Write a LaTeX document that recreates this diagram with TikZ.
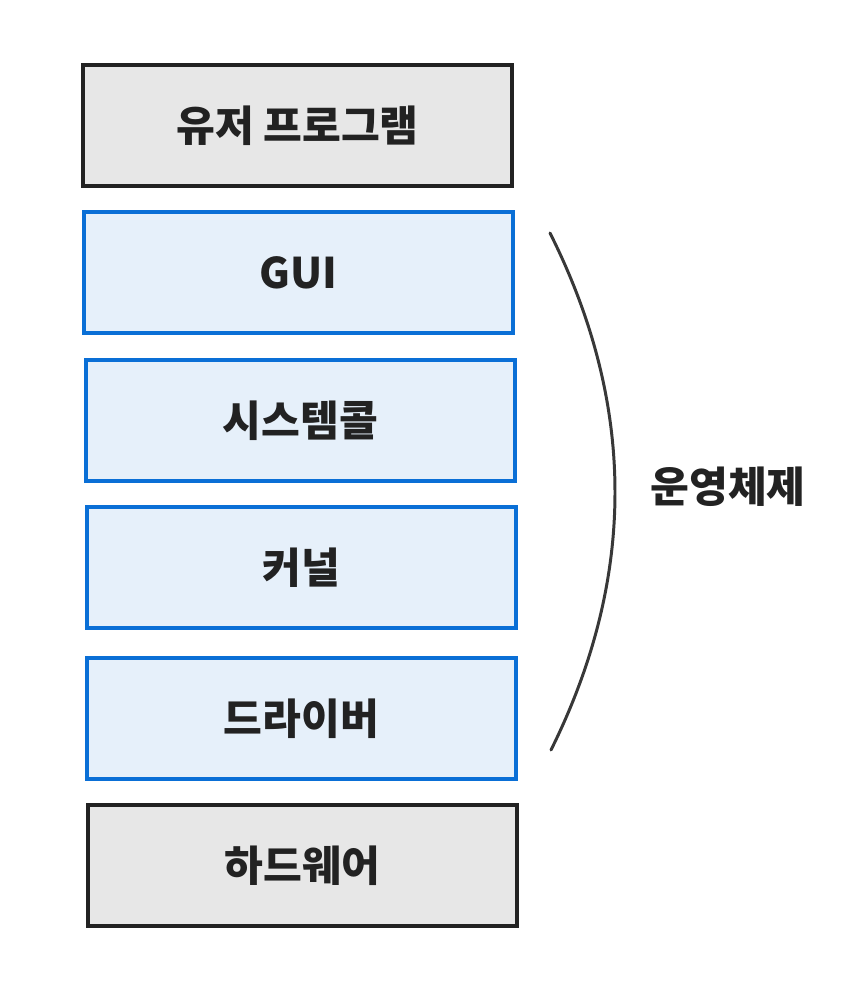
\documentclass[tikz,border=0pt]{standalone}
\usepackage{fontspec}
\newfontfamily\kr{Noto Sans CJK KR}
\usepackage{tikz}
\usetikzlibrary{positioning}
\usepackage{xcolor}
\definecolor{layerblue}{HTML}{0A6FD6}
\definecolor{layerfill}{HTML}{E6F0FA}
\definecolor{hwgray}{HTML}{E7E7E7}
\definecolor{edgedark}{HTML}{222222}

\begin{document}
\begin{tikzpicture}[
  layer/.style={draw=layerblue,line width=2.3pt,fill=layerfill,minimum width=8.58cm,minimum height=2.42cm,text=edgedark,font=\kr\bfseries\fontsize{24}{28}\selectfont},
  outer/.style={layer,draw=edgedark,fill=hwgray}]
\useasboundingbox (0,0) rectangle (17.32,-19.76);
\node[outer] (user) at (5.95,-2.51) {유저 프로그램};
\node[layer] (gui) at (5.97,-5.45) {GUI};
\node[layer] (syscall) at (6.01,-8.41) {시스템콜};
\node[layer] (kernel) at (6.03,-11.35) {커널};
\node[layer] (driver) at (6.03,-14.37) {드라이버};
\node[outer] (hw) at (6.05,-17.31) {하드웨어};
\coordinate (top) at (11.0,-4.66);
\coordinate (bot) at (11.02,-15.0);
\draw[edgedark!90,line width=1.7pt,line cap=round] (top) .. controls (12.73,-8.11) and (12.73,-11.55) .. (bot);
\node[text=edgedark,font=\kr\bfseries\fontsize{24}{28}\selectfont] (os) at (14.56,-9.74) {운영체제};
\end{tikzpicture}
\end{document}
